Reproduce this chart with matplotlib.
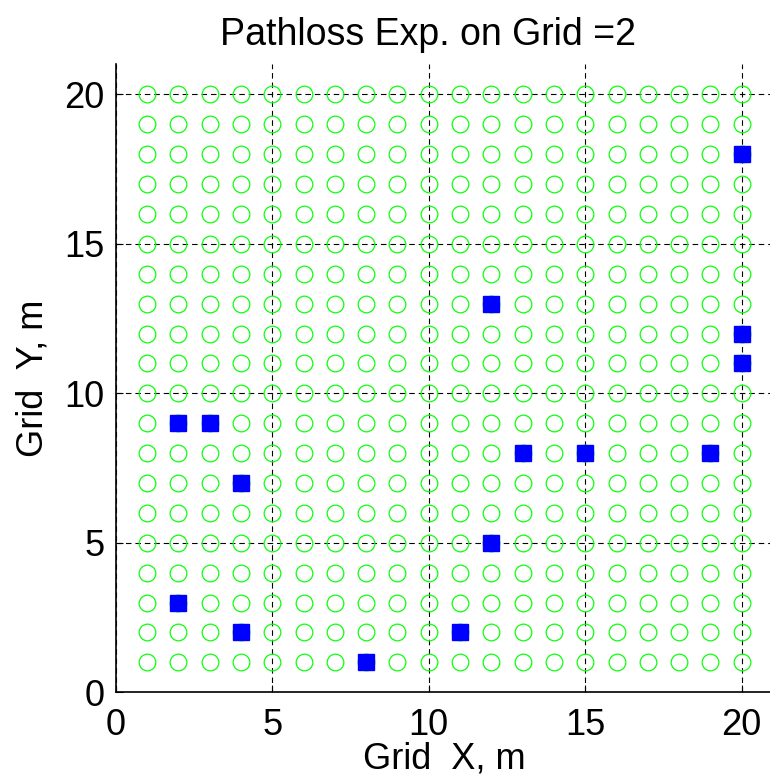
import numpy as np
import matplotlib
matplotlib.use("Agg")
import matplotlib.pyplot as plt

plt.rcParams['font.family'] = ['Liberation Sans', 'DejaVu Sans']

# grid of receiver positions (1..20 in both directions)
grid_x = list(range(1, 21))
grid_y = list(range(1, 21))

# selected node positions
sel_x = [20, 12, 20, 20, 2, 3, 13, 15, 19, 4, 12, 2, 4, 11, 8]
sel_y = [18, 13, 12, 11, 9, 9, 8, 8, 8, 7, 5, 3, 2, 2, 1]

ticks = [0, 5, 10, 15, 20]

gx, gy = np.meshgrid(grid_x, grid_y)

fig = plt.figure(figsize=(7.70, 7.79), dpi=100)
ax = fig.add_axes([0.1503, 0.1113, 0.8536, 0.806])

ax.plot(gx.ravel(), gy.ravel(), 'o', ls='none', mfc='none', mec=(0.05, 1.0, 0.05),
        ms=12, mew=0.9, zorder=3)
ax.plot(sel_x, sel_y, 's', ls='none', mfc=(0, 0, 1), mec=(0, 0, 1), ms=11.5, zorder=4)

ax.set_xlim(0, 21)
ax.set_ylim(0, 21)
ax.set_xticks(ticks)
ax.set_yticks(ticks)
ax.grid(True, color='black', ls=(0, (5, 3.5)), lw=0.8)
ax.set_axisbelow(True)

for s in ['top', 'right']:
    ax.spines[s].set_visible(False)
for s in ['left', 'bottom']:
    ax.spines[s].set_linewidth(1.2)

ax.tick_params(direction='in', length=5, width=0.8, labelsize=26)
ax.tick_params(axis='x', pad=11)
ax.tick_params(axis='y', pad=8)

ax.set_title('Pathloss Exp. on Grid =2', fontsize=27, x=0.475, pad=14)
ax.set_xlabel('Grid  X, m', fontsize=26, labelpad=-1)
ax.set_ylabel('Grid  Y, m', fontsize=26, labelpad=10)

fig.savefig('out.png', dpi=100)
